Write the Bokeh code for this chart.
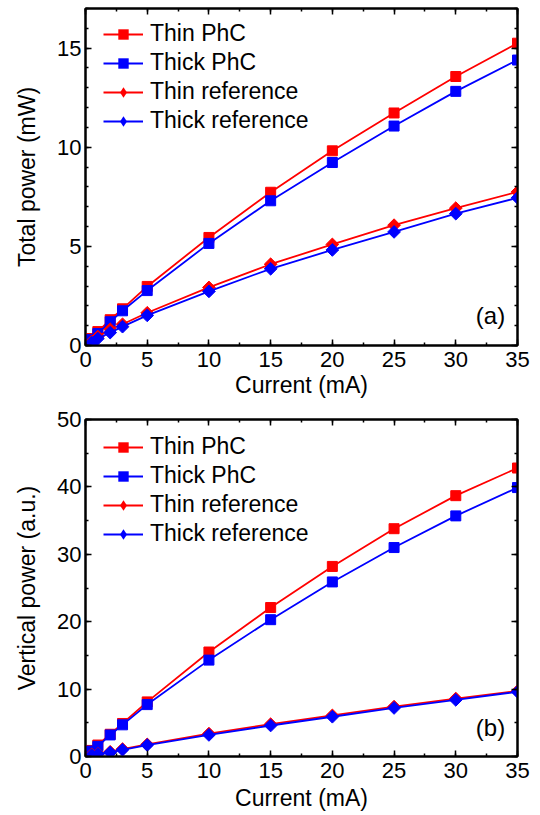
import math
from bokeh.plotting import figure
from bokeh.layouts import column
from bokeh.models import (LinearAxis, SingleIntervalTicker, Legend, LegendItem, Label, Range1d,
                          CustomJSTickFormatter)
from bokeh.embed import file_html
from bokeh.resources import INLINE

current = [0.5, 1, 2, 3, 5, 10, 15, 20, 25, 30, 35]

total_thin_phc = [0.35, 0.7, 1.3, 1.85, 2.98, 5.45, 7.73, 9.82, 11.73, 13.57, 15.25]
total_thick_phc = [0.3, 0.6, 1.2, 1.75, 2.77, 5.15, 7.3, 9.23, 11.07, 12.82, 14.4]
total_thin_ref = [0.2, 0.45, 0.82, 1.07, 1.65, 2.93, 4.1, 5.1, 6.07, 6.93, 7.75]
total_thick_ref = [0.15, 0.35, 0.65, 0.95, 1.52, 2.73, 3.87, 4.82, 5.73, 6.65, 7.45]

vert_thin_phc = [0.9, 1.7, 3.3, 4.9, 8.1, 15.5, 22.1, 28.2, 33.8, 38.7, 42.8]
vert_thick_phc = [0.8, 1.5, 3.2, 4.7, 7.7, 14.3, 20.3, 25.9, 31.0, 35.7, 39.9]
vert_thin_ref = [0.3, 0.4, 0.7, 1.1, 1.8, 3.4, 4.8, 6.1, 7.4, 8.6, 9.7]
vert_thick_ref = [0.2, 0.35, 0.6, 1.0, 1.7, 3.2, 4.6, 5.9, 7.2, 8.4, 9.6]

names = ["Thin PhC", "Thick PhC", "Thin reference", "Thick reference"]
colors = ["#ff0000", "#0000ff", "#ff0000", "#0000ff"]
angles = [0, 0, math.pi / 4, math.pi / 4]
msizes = [10, 10, 9, 9]
legend_markers = ["square", "square", "diamond", "diamond"]

FONT = "Liberation Sans"


def style_axis(ax, show_labels=True):
    ax.axis_line_width = 2
    ax.axis_line_color = "black"
    ax.major_tick_in = 6
    ax.major_tick_out = 0
    ax.minor_tick_in = 3
    ax.minor_tick_out = 0
    ax.major_tick_line_width = 1.5
    ax.minor_tick_line_width = 1.5
    ax.major_label_text_font = FONT
    ax.major_label_text_color = "black"
    if show_labels:
        ax.major_label_text_font_size = "22px"
        ax.axis_label_text_font = FONT
        ax.axis_label_text_font_size = "23px"
        ax.axis_label_text_font_style = "normal"
        ax.axis_label_text_color = "black"
    else:
        ax.formatter = CustomJSTickFormatter(code="return ''")
        ax.major_label_text_font_size = "1px"
        ax.major_label_standoff = 0


def make(ylabel, yend, ymajor, nminor, series, panel, height, top, bottom, label_y, xstand):
    p = figure(width=532, height=height, x_range=Range1d(0, 35), y_range=Range1d(0, yend),
               output_backend="svg", toolbar_location=None,
               min_border_left=85, min_border_right=15,
               min_border_top=top, min_border_bottom=bottom)
    p.xgrid.visible = False
    p.ygrid.visible = False
    p.outline_line_color = "black"
    p.outline_line_width = 2
    p.xaxis.ticker = SingleIntervalTicker(interval=5, num_minor_ticks=2)
    p.yaxis.ticker = SingleIntervalTicker(interval=ymajor, num_minor_ticks=nminor)
    p.xaxis.axis_label = "Current (mA)"
    p.yaxis.axis_label = ylabel
    style_axis(p.xaxis[0])
    style_axis(p.yaxis[0])
    p.xaxis.major_label_standoff = 6
    p.xaxis.axis_label_standoff = xstand
    p.yaxis.major_label_standoff = 4
    p.yaxis.axis_label_standoff = 14
    ax_top = LinearAxis(ticker=SingleIntervalTicker(interval=5, num_minor_ticks=2))
    style_axis(ax_top, False)
    p.add_layout(ax_top, "above")
    ax_right = LinearAxis(ticker=SingleIntervalTicker(interval=ymajor, num_minor_ticks=nminor))
    style_axis(ax_right, False)
    p.add_layout(ax_right, "right")

    items = []
    for name, vals, c, a, s, lm in zip(names, series, colors, angles, msizes, legend_markers):
        r1 = p.line(current, vals, line_color=c, line_width=1.8)
        # legend marker glyph (zero size in the plot, sized by the legend itself)
        rl = p.scatter(current, vals, marker=lm, size=0, fill_color=c, line_color=c, line_width=0)
        p.scatter(current, vals, marker="square", size=s, angle=a,
                  fill_color=c, line_color=c)
        items.append(LegendItem(label=name, renderers=[r1, rl]))
    fh = height - top - bottom
    leg = Legend(items=items, location=(18, fh - 10 - 120), border_line_color=None,
                 background_fill_alpha=0, padding=0, margin=0, spacing=0,
                 glyph_width=40, glyph_height=26, label_height=29, label_standoff=7,
                 label_text_font=FONT, label_text_font_size="23px", label_text_color="black")
    p.add_layout(leg)
    p.add_layout(Label(x=34, y=label_y, text=panel, text_align="right", text_baseline="middle",
                       text_font=FONT, text_font_size="24px", text_color="black"))
    return p


p1 = make("Total power (mW)", 17, 5, 5,
          [total_thin_phc, total_thick_phc, total_thin_ref, total_thick_ref],
          "(a)", 400, 8, 52, 1.5, 2)
p2 = make("Vertical power (a.u.)", 50, 10, 2,
          [vert_thin_phc, vert_thick_phc, vert_thin_ref, vert_thick_ref],
          "(b)", 413, 19, 56, 4.3, 4)

layout = column(p1, p2, spacing=0)
open("out.html", "w").write(file_html(layout, INLINE))
